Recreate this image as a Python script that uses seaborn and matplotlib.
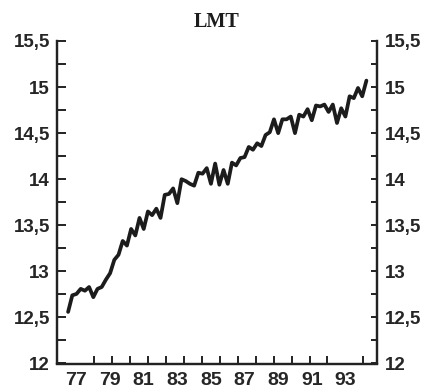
import numpy as np
import pandas as pd
import matplotlib
matplotlib.use("Agg")
import matplotlib.pyplot as plt
from matplotlib.ticker import FixedLocator, MultipleLocator, FuncFormatter
import seaborn as sns

# Quarterly LMT series, 1976 Q3 through 1994 Q2
start_year = 1976.5
lmt = [
    12.56, 12.74, 12.755, 12.81, 12.79, 12.83, 12.72, 12.81,
    12.83, 12.91, 12.98, 13.125, 13.18, 13.33, 13.28, 13.46,
    13.39, 13.58, 13.46, 13.65, 13.61, 13.68, 13.58, 13.83,
    13.84, 13.90, 13.74, 14.00, 13.98, 13.95, 13.93, 14.07,
    14.06, 14.12, 13.95, 14.17, 13.94, 14.10, 13.95, 14.18,
    14.15, 14.23, 14.24, 14.35, 14.32, 14.39, 14.36, 14.48,
    14.51, 14.65, 14.50, 14.65, 14.65, 14.68, 14.50, 14.70,
    14.68, 14.76, 14.64, 14.80, 14.79, 14.81, 14.73, 14.81,
    14.61, 14.77, 14.68, 14.90, 14.88, 14.99, 14.90, 15.07,
]
year_labels = ["77", "79", "81", "83", "85", "87", "89", "91", "93"]
label_years = [1977, 1979, 1981, 1983, 1985, 1987, 1989, 1991, 1993]

df = pd.DataFrame({
    "year": start_year + 0.25 * np.arange(len(lmt)),
    "lmt": lmt,
})

sns.set_style("white")
plt.rcParams["font.family"] = ["Liberation Sans", "DejaVu Sans"]

fig = plt.figure(figsize=(4.26, 3.88), dpi=100)
ax = fig.add_axes([57 / 426, (388 - 363.5) / 388, 320 / 426, 322.5 / 388])

sns.lineplot(data=df, x="year", y="lmt", ax=ax, color="#1c1c1c",
             linewidth=2.7, legend=False)

ax.set_xlim(1975.84, 1994.88)
ax.set_ylim(12, 15.5)
ax.set_xlabel("")
ax.set_ylabel("")

comma = FuncFormatter(lambda v, _: f"{v:g}".replace(".", ","))

# x axis: evenly spaced tick marks, labels every second year
ax.xaxis.set_major_locator(FixedLocator(label_years))
ax.set_xticklabels(year_labels)
ax.xaxis.set_minor_locator(FixedLocator(np.linspace(1977, 1977 + 16 * 16 / 15, 17)))
ax.tick_params(axis="x", which="major", length=0, pad=6,
               labelsize=14)
ax.tick_params(axis="x", which="minor", direction="in", length=6,
               width=1.4, color="#222222", bottom=True)
for lab in ax.get_xticklabels():
    lab.set_fontweight("bold")

# left y axis
ax.yaxis.set_major_locator(MultipleLocator(0.5))
ax.yaxis.set_minor_locator(MultipleLocator(0.25))
ax.yaxis.set_major_formatter(comma)
ax.tick_params(axis="y", which="both", direction="in", length=6.5,
               width=1.4, color="#222222", left=True, pad=5, labelsize=13.5)
for lab in ax.get_yticklabels():
    lab.set_fontweight("bold")

# right y axis mirrors the left one
ax2 = ax.twinx()
ax2.set_ylim(12, 15.5)
ax2.yaxis.set_major_locator(MultipleLocator(0.5))
ax2.yaxis.set_minor_locator(MultipleLocator(0.25))
ax2.yaxis.set_major_formatter(comma)
ax2.tick_params(axis="y", which="both", direction="in", length=4.5,
                width=1.4, color="#222222", right=True, pad=6, labelsize=13.5)
for lab in ax2.get_yticklabels():
    lab.set_fontweight("bold")

for a in (ax, ax2):
    a.spines["top"].set_visible(False)
    for side in ("left", "right", "bottom"):
        a.spines[side].set_linewidth(1.6)
        a.spines[side].set_color("#222222")

ax.set_title("LMT", family=["Liberation Serif", "DejaVu Serif"],
             fontweight="bold", fontsize=14.5, pad=10, color="#1c1c1c")

fig.savefig("out.png", dpi=100, facecolor="white")
